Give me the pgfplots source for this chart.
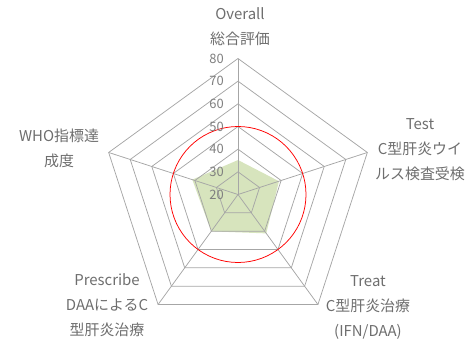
\documentclass[border=0pt]{standalone}
\usepackage{pgfplots}
\pgfplotsset{compat=1.18}
\usepgfplotslibrary{polar}
\usepackage{fontspec}
\setmainfont{Noto Sans CJK JP}
\definecolor{gridc}{HTML}{A6A6A6}
\definecolor{txtc}{HTML}{6E6E6E}
\definecolor{tickc}{HTML}{7F7F7F}
\definecolor{fillc}{HTML}{D7E4BD}
\begin{document}
\begin{tikzpicture}[x=1bp,y=1bp]
\path[use as bounding box] (0,0) rectangle (473,346);
\begin{polaraxis}[
  at={(238bp,151.5bp)}, anchor=center,
  scale only axis, width=272bp, height=272bp,
  xmin=0, xmax=360, ymin=0, ymax=60,
  hide axis, clip=false,
  y filter/.expression={y-20},
]
% data series
\addplot[fill=fillc, draw=none] coordinates {(90,35.2) (18,39.0) (306,41.2) (234,40.1) (162,41.2) (90,35.2)};
% grid rings
\addplot[gridc, line width=0.75bp] coordinates {(90,30) (18,30) (306,30) (234,30) (162,30) (90,30)};
\addplot[gridc, line width=0.75bp] coordinates {(90,40) (18,40) (306,40) (234,40) (162,40) (90,40)};
\addplot[gridc, line width=0.75bp] coordinates {(90,50) (18,50) (306,50) (234,50) (162,50) (90,50)};
\addplot[gridc, line width=0.75bp] coordinates {(90,60) (18,60) (306,60) (234,60) (162,60) (90,60)};
\addplot[gridc, line width=0.75bp] coordinates {(90,70) (18,70) (306,70) (234,70) (162,70) (90,70)};
\addplot[gridc, line width=0.75bp] coordinates {(90,80) (18,80) (306,80) (234,80) (162,80) (90,80)};
% spokes
\addplot[gridc, line width=0.75bp] coordinates {(90,20) (90,80)};
\addplot[gridc, line width=0.75bp] coordinates {(18,20) (18,80)};
\addplot[gridc, line width=0.75bp] coordinates {(306,20) (306,80)};
\addplot[gridc, line width=0.75bp] coordinates {(234,20) (234,80)};
\addplot[gridc, line width=0.75bp] coordinates {(162,20) (162,80)};
% reference circle at 50
\addplot[red, line width=0.75bp] coordinates {
(0,50) (5,50) (10,50) (15,50) (20,50) (25,50) (30,50) (35,50) (40,50) (45,50)
(50,50) (55,50) (60,50) (65,50) (70,50) (75,50) (80,50) (85,50) (90,50) (95,50)
(100,50) (105,50) (110,50) (115,50) (120,50) (125,50) (130,50) (135,50) (140,50) (145,50)
(150,50) (155,50) (160,50) (165,50) (170,50) (175,50) (180,50) (185,50) (190,50) (195,50)
(200,50) (205,50) (210,50) (215,50) (220,50) (225,50) (230,50) (235,50) (240,50) (245,50)
(250,50) (255,50) (260,50) (265,50) (270,50) (275,50) (280,50) (285,50) (290,50) (295,50)
(300,50) (305,50) (310,50) (315,50) (320,50) (325,50) (330,50) (335,50) (340,50) (345,50)
(350,50) (355,50) (360,50)};
\end{polaraxis}
% tick labels
\begin{scope}[every node/.style={anchor=east, text=tickc, font=\fontsize{13}{13}\selectfont, inner sep=0pt}]
\node at (224,151.5) {20};
\node at (224,174.2) {30};
\node at (224,196.8) {40};
\node at (224,219.5) {50};
\node at (224,242.2) {60};
\node at (224,264.8) {70};
\node at (224,287.5) {80};
\end{scope}
% category labels
\begin{scope}[every node/.style={align=center, text=txtc, font=\fontsize{15}{25}\selectfont, inner sep=0pt}]
\node at (240,319.5) {Overall\\総合評価};
\node at (420,196) {Test\\C型肝炎ウイ\\ルス検査受検};
\node at (59,197.5) {WHO指標達\\成度};
\node at (107,41) {Prescribe\\DAAによるC\\型肝炎治療};
\node at (368,38.5) {Treat\\C型肝炎治療\\(IFN/DAA)};
\end{scope}
\end{tikzpicture}
\end{document}
